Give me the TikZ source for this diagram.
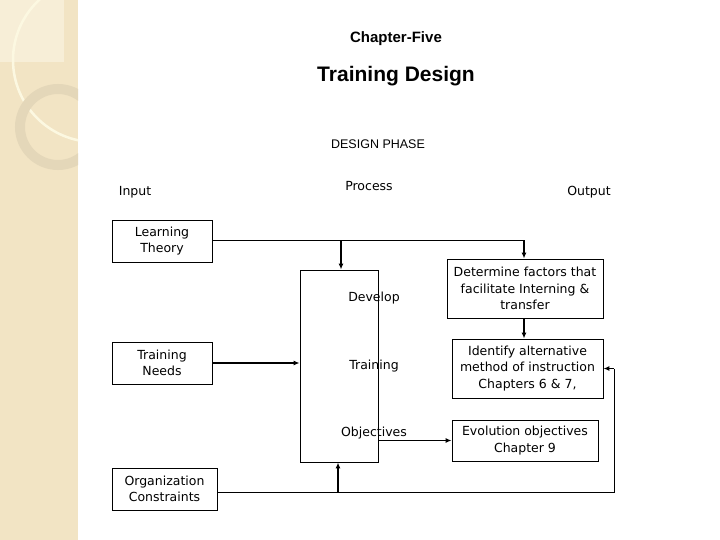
\documentclass[tikz,border=0pt]{standalone}
\usepackage{fontspec}
\setmainfont{DejaVu Sans}
\newfontfamily\arialf{Liberation Sans}
\usetikzlibrary{arrows.meta}
\definecolor{stripe}{RGB}{242,228,196}
\definecolor{sq}{RGB}{247,238,215}
\definecolor{bigc}{RGB}{252,248,225}
\definecolor{ring}{RGB}{228,215,185}
\begin{document}
\begin{tikzpicture}[x=1pt,y=-1pt,
  bx/.style={draw,line width=0.9pt,inner sep=0pt,align=center,font=\fontsize{12.5}{16.5}\selectfont},
  lbl/.style={font=\fontsize{12.5}{15}\selectfont},
  ar/.style={line width=1.4pt,-{Latex[length=6pt,width=5pt]}},
  ln/.style={line width=1pt}]
\useasboundingbox (0,0) rectangle (720,540);
\fill[white] (0,0) rectangle (720,540);
% left stripe
\fill[stripe] (0,0) rectangle (78,540);
\begin{scope}
\clip (0,0) rectangle (78,540);
\fill[sq] (0,0) rectangle (64,62);
\draw[bigc,line width=2.5pt] (95,60) circle (82);
\draw[ring,line width=10pt] (58,127) circle (38);
\end{scope}
% titles
\node[font=\arialf\bfseries\fontsize{15}{18}\selectfont] (t1) at (396,39) {Chapter-Five};
\node[font=\arialf\bfseries\fontsize{21}{24}\selectfont] (t2) at (396,76) {Training Design};
\node[font=\arialf\fontsize{12.5}{15}\selectfont] (t3) at (378,144) {DESIGN PHASE};
\node[lbl] (in) at (135,192) {Input};
\node[lbl] (pr) at (369,186) {Process};
\node[lbl] (out) at (589,192) {Output};
% boxes
\node[bx,minimum width=100,minimum height=42] (lt) at (162,241) {Learning\\Theory};
\node[bx,minimum width=100,minimum height=42] (tn) at (162,363) {Training\\Needs};
\node[bx,minimum width=105,minimum height=42] (oc) at (164.5,489) {Organization\\Constraints};
\node[draw,line width=0.9pt,minimum width=78,minimum height=192] (pb) at (339,366) {};
\node[lbl] (d1) at (374,298) {Develop};
\node[lbl] (d2) at (374,366) {Training};
\node[lbl] (d3) at (374,433) {Objectives};
\node[bx,minimum width=156,minimum height=59] (df) at (525,288.5) {Determine factors that\\facilitate Interning \&\\transfer};
\node[bx,minimum width=151,minimum height=59] (ia) at (527.5,368.5) {Identify alternative\\method of instruction\\Chapters 6 \& 7,};
\node[bx,minimum width=146,minimum height=41] (eo) at (525,440.5) {Evolution objectives\\Chapter 9};
% connectors
\coordinate (j1) at (341,240);
\coordinate (j2) at (524,240);
\draw[ln] (lt.east |- j1) -- (j2);
\draw[ar] (j1) -- (j1 |- pb.north);
\draw[ar] (j2) -- (j2 |- df.north);
\draw[ar] (df.south -| j2) -- (ia.north -| j2);
\draw[ar] (tn.east) -- (pb.west |- tn.east);
\draw[ar] (pb.east |- eo.west) -- (eo.west);
\coordinate (j3) at (338,492);
\coordinate (j4) at (614,492);
\draw[ln] (oc.east |- j3) -- (j4) -- (j4 |- ia.east);
\draw[ar] (j4 |- ia.east) -- (ia.east);
\draw[ar] (j3) -- (j3 |- pb.south);
\end{tikzpicture}
\end{document}
